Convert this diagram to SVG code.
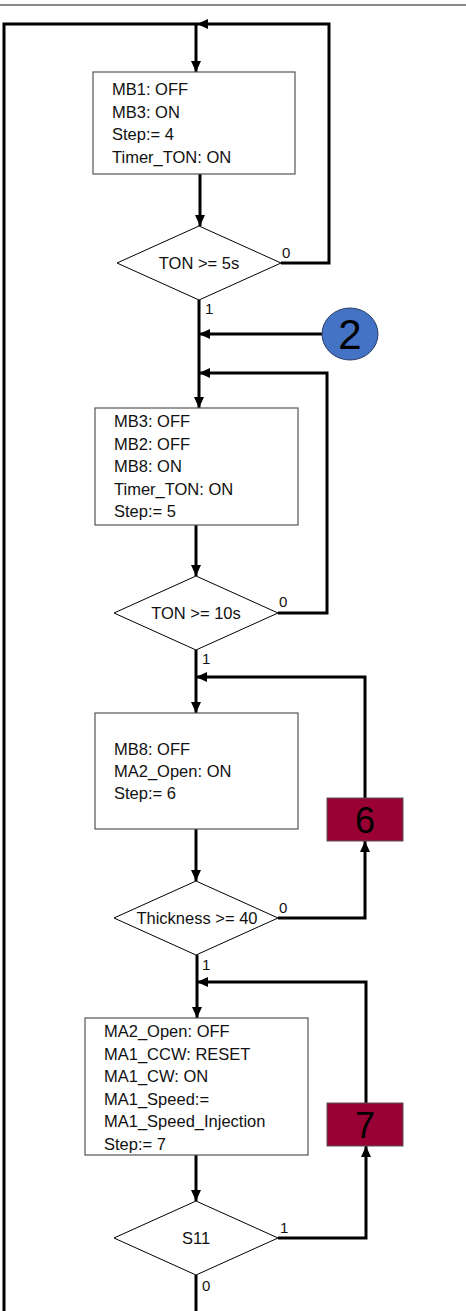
<svg xmlns="http://www.w3.org/2000/svg" width="466" height="1311" viewBox="0 0 466 1311">
<defs>
<marker id="ah" markerUnits="userSpaceOnUse" markerWidth="12" markerHeight="10" refX="11" refY="5" orient="auto">
<path d="M0,0 L11,5 L0,10 Z" fill="#000"/>
</marker>
<style>
.c{fill:none;stroke:#000;stroke-width:3;}
.a{marker-end:url(#ah);}
.box{fill:#fff;stroke:#555;stroke-width:1.2;}
.dia{fill:#fff;stroke:#000;stroke-width:1;}
.t{font-family:"Liberation Sans",Arial,sans-serif;font-size:16.5px;fill:#111;}
.tc{text-anchor:middle;}
.lb{font-family:"Liberation Sans",Arial,sans-serif;font-size:15px;fill:#111;}
.big{font-family:"Liberation Sans",Arial,sans-serif;font-size:42px;fill:#000;text-anchor:middle;}
.red{fill:#990033;stroke:#555;stroke-width:1;}
</style>
</defs>
<rect x="0" y="0" width="466" height="1311" fill="#fff"/>
<line x1="0" y1="5" x2="466" y2="5" stroke="#888" stroke-width="2"/>
<g id="connectors">
<path class="c" d="M4,1311 V24 H197"/>
<path class="c a" d="M196,24 V72"/>
<path class="c a" d="M281,263 H329 V24 H197"/>
<path class="c a" d="M200,174 V226"/>
<path class="c a" d="M199,300 V408"/>
<path class="c a" d="M322,334 H199"/>
<path class="c a" d="M278,613 H327 V373 H199"/>
<path class="c a" d="M196,525 V576"/>
<path class="c a" d="M196,650 V713"/>
<path class="c a" d="M365,798 V677 H196"/>
<path class="c a" d="M278,918 H365 V841"/>
<path class="c a" d="M196,829 V881"/>
<path class="c a" d="M197,955 V1018"/>
<path class="c a" d="M366,1103 V982 H197"/>
<path class="c a" d="M196,1155 V1201"/>
<path class="c a" d="M278,1238 H366 V1146"/>
<path class="c" d="M196,1275 V1311"/>
</g>
<g id="box1">
<rect class="box" x="93" y="72" width="202" height="102"/>
<text class="t" x="112" y="95">MB1: OFF</text>
<text class="t" x="112" y="117.5">MB3: ON</text>
<text class="t" x="112" y="140">Step:= 4</text>
<text class="t" x="112" y="162.5">Timer_TON: ON</text>
</g>
<g id="dec1">
<polygon class="dia" points="199,226 281,263 199,300 117,263"/>
<text class="t tc" x="199" y="269">TON &gt;= 5s</text>
<text class="lb" x="282" y="258">0</text>
<text class="lb" x="205" y="314">1</text>
</g>
<g id="conn2">
<ellipse cx="350" cy="334" rx="28" ry="26" fill="#4472C4" stroke="#2a3f66" stroke-width="1"/>
<text class="big" x="350" y="349">2</text>
</g>
<g id="box2">
<rect class="box" x="95" y="408" width="203" height="117"/>
<text class="t" x="114" y="427">MB3: OFF</text>
<text class="t" x="114" y="449.5">MB2: OFF</text>
<text class="t" x="114" y="472">MB8: ON</text>
<text class="t" x="114" y="494.5">Timer_TON: ON</text>
<text class="t" x="114" y="517">Step:= 5</text>
</g>
<g id="dec2">
<polygon class="dia" points="196,576 278,613 196,650 114,613"/>
<text class="t tc" x="196" y="619">TON &gt;= 10s</text>
<text class="lb" x="279" y="607">0</text>
<text class="lb" x="202" y="664">1</text>
</g>
<g id="box3">
<rect class="box" x="95" y="713" width="203" height="116"/>
<text class="t" x="114" y="755">MB8: OFF</text>
<text class="t" x="114" y="777">MA2_Open: ON</text>
<text class="t" x="114" y="799">Step:= 6</text>
</g>
<g id="conn6">
<rect class="red" x="327" y="798" width="76" height="43"/>
<text class="big" x="365" y="833" style="font-size:36px">6</text>
</g>
<g id="dec3">
<polygon class="dia" points="196,881 278,918 196,955 114,918"/>
<text class="t tc" x="197" y="924">Thickness &gt;= 40</text>
<text class="lb" x="279" y="913">0</text>
<text class="lb" x="202" y="970">1</text>
</g>
<g id="box4">
<rect class="box" x="85" y="1018" width="223" height="137"/>
<text class="t" x="104" y="1037">MA2_Open: OFF</text>
<text class="t" x="104" y="1059.5">MA1_CCW: RESET</text>
<text class="t" x="104" y="1082">MA1_CW: ON</text>
<text class="t" x="104" y="1104.5">MA1_Speed:=</text>
<text class="t" x="104" y="1127">MA1_Speed_Injection</text>
<text class="t" x="104" y="1149.5">Step:= 7</text>
</g>
<g id="conn7">
<rect class="red" x="327" y="1103" width="76" height="43"/>
<text class="big" x="365" y="1138" style="font-size:36px">7</text>
</g>
<g id="dec4">
<polygon class="dia" points="196,1201 278,1238 196,1275 114,1238"/>
<text class="t tc" x="196" y="1244">S11</text>
<text class="lb" x="280" y="1233">1</text>
<text class="lb" x="202" y="1291">0</text>
</g>
</svg>
